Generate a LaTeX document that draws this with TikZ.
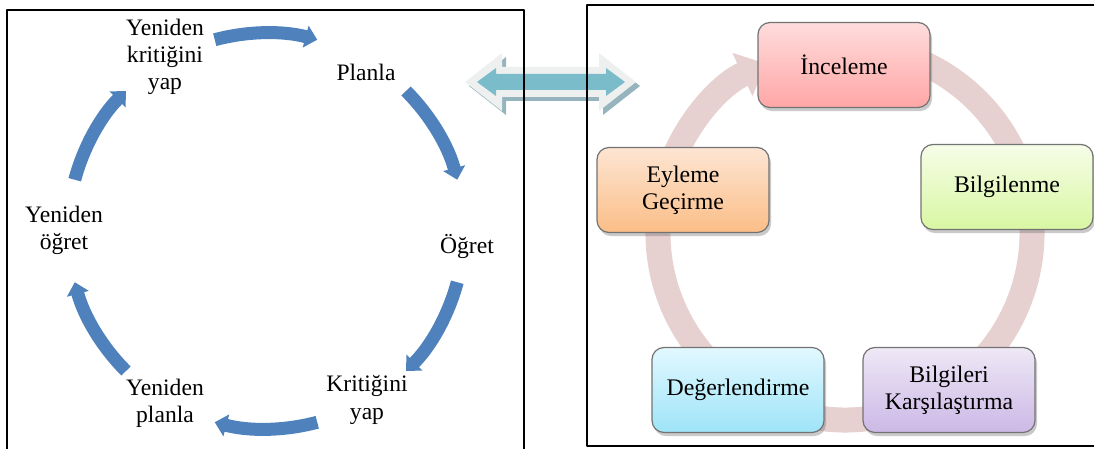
\documentclass[tikz,border=0pt]{standalone}
\usepackage{fontspec}
\setmainfont{Liberation Serif}
\usetikzlibrary{arrows.meta,shadows,calc}
\definecolor{bant}{RGB}{79,129,189}
\definecolor{halka}{RGB}{231,208,208}
\definecolor{okgolge}{RGB}{150,180,190}
\definecolor{okici}{RGB}{122,188,202}
\definecolor{okdis}{RGB}{238,240,240}
\definecolor{inceust}{RGB}{255,220,220} \definecolor{incealt}{RGB}{255,166,166}
\definecolor{bilgiust}{RGB}{246,253,232} \definecolor{bilgialt}{RGB}{216,247,162}
\definecolor{karsiust}{RGB}{238,232,246} \definecolor{karsialt}{RGB}{204,184,230}
\definecolor{degerust}{RGB}{226,248,255} \definecolor{degeralt}{RGB}{158,228,248}
\definecolor{eylemust}{RGB}{253,229,211} \definecolor{eylemalt}{RGB}{251,190,135}
\tikzset{
  dongu/.style={line width=6.5pt, color=bant, line cap=butt, -{Triangle[length=6pt,width=11pt]}},
  etiket/.style={align=center, font=\fontsize{11.8}{13.6}\selectfont},
  kutu/.style={draw=black!55, line width=0.6pt, rounded corners=6pt, minimum width=86pt,
    minimum height=42.5pt, align=center, font=\fontsize{11.9}{13.6}\selectfont,
    drop shadow={shadow xshift=1pt, shadow yshift=-1.8pt, opacity=0.35, fill=black!60}},
}
\begin{document}
\begin{tikzpicture}[x=0.5pt, y=0.5pt, >=stealth, line join=round]
	\useasboundingbox (0,0) rectangle (1094,449);
	\clip (0,0) rectangle (1094,449);
	\def\lr{99pt} \def\rr{93.5pt} % yaricaplar
	% sol dongu
	\coordinate (lm) at (266,218);
	\node[etiket] (rkyap) at (165,392) {Yeniden\\kritiğini\\yap};
	\node[etiket] (planla) at (366,377) {Planla};
	\node[etiket] (ogret) at (467,203) {Öğret};
	\node[etiket] (kyap) at (367,49) {Kritiğini\\yap};
	\node[etiket] (rplanla) at (165,46) {Yeniden\\planla};
	\node[etiket] (rogret) at (64,219) {Yeniden\\öğret};
	\draw[dongu] ($(lm)+(105:\lr)$) arc[start angle=105, end angle=75, radius=\lr];
	\draw[dongu] ($(lm)+(45:\lr)$) arc[start angle=45, end angle=15, radius=\lr];
	\draw[dongu] ($(lm)+(-15:\lr)$) arc[start angle=-15, end angle=-45, radius=\lr];
	\draw[dongu] ($(lm)+(-75:\lr)$) arc[start angle=-75, end angle=-105, radius=\lr];
	\draw[dongu] ($(lm)+(-135:\lr)$) arc[start angle=-135, end angle=-165, radius=\lr];
	\draw[dongu] ($(lm)+(165:\lr)$) arc[start angle=165, end angle=135, radius=\lr];
	% sag dongu
	\coordinate (rm) at (845,216);
	\draw[line width=12.5pt, color=halka, line cap=butt, -{Triangle[length=13pt,width=23pt]}]
		($(rm)+(75:\rr)$) arc[start angle=75, end angle=-245, radius=\rr];
	\node[kutu, top color=inceust, bottom color=incealt] (ince) at (844,384) {İnceleme};
	\node[kutu, top color=bilgiust, bottom color=bilgialt] (bilgi) at (1007,262) {Bilgilenme};
	\node[kutu, top color=karsiust, bottom color=karsialt] (karsi) at (949,59) {Bilgileri\\Karşılaştırma};
	\node[kutu, top color=degerust, bottom color=degeralt] (deger) at (738,59) {Değerlendirme};
	\node[kutu, top color=eylemust, bottom color=eylemalt] (eylem) at (683,259) {Eyleme\\Geçirme};
	% cift ok
	\fill[okgolge] (469,363) -- (506,392) -- (506,378) -- (603,378) -- (603,392) -- (640,363)
		-- (603,334) -- (603,348) -- (506,348) -- (506,334) -- cycle;
	\fill[okdis] (465,367) -- (502,396) -- (502,382) -- (599,382) -- (599,396) -- (636,367)
		-- (599,338) -- (599,352) -- (502,352) -- (502,338) -- cycle;
	\fill[okici] (477,367) -- (496,381) -- (496,375) -- (606,375) -- (606,381) -- (625,367)
		-- (606,353) -- (606,359) -- (496,359) -- (496,353) -- cycle;
	% cerceveler
	\draw[line width=1pt] (7,-10) -- (7,439) -- (524,439) -- (524,-10);
	\draw[line width=1.1pt] (587,3) rectangle (1110,444);
\end{tikzpicture}
\end{document}
